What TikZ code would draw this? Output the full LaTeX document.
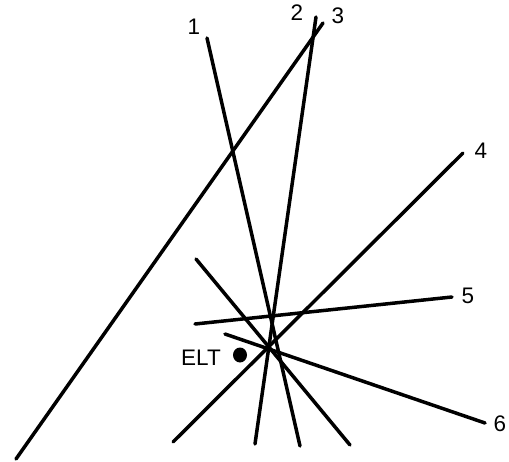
\documentclass[tikz,border=0pt]{standalone}
\usepackage{fontspec}
\setmainfont{Liberation Sans}
\begin{document}
\begin{tikzpicture}[x=1pt,y=-1pt,
  ray/.style={line width=3.5pt, line cap=round},
  lbl/.style={inner sep=0pt, font=\fontsize{22.5}{22.5}\selectfont}]
\useasboundingbox (0,0) rectangle (509,461);
% endpoints
\coordinate (a1) at (207,38);  \coordinate (b1) at (300,446);
\coordinate (a2) at (316,17);  \coordinate (b2) at (255,444);
\coordinate (a3) at (323,23);  \coordinate (b3) at (16,459);
\coordinate (a4) at (463,153); \coordinate (b4) at (173,442);
\coordinate (a5) at (452,297); \coordinate (b5) at (195,324);
\coordinate (a6) at (485,423); \coordinate (b6) at (225,334);
\coordinate (a7) at (196,259); \coordinate (b7) at (350,445);
\draw[ray] (a1) -- (b1);
\draw[ray] (a2) -- (b2);
\draw[ray] (a3) -- (b3);
\draw[ray] (a4) -- (b4);
\draw[ray] (a5) -- (b5);
\draw[ray] (a6) -- (b6);
\draw[ray] (a7) -- (b7);
% labels
\node[lbl] (n1) at (194,27) {1};
\node[lbl] (n2) at (297,13) {2};
\node[lbl] (n3) at (338,16) {3};
\node[lbl] (n4) at (481,151) {4};
\node[lbl] (n5) at (468,296) {5};
\node[lbl] (n6) at (500,424) {6};
\node[lbl] (elt) at (201,358) {ELT};
\fill (240,355) ellipse (7pt and 7.5pt);
\end{tikzpicture}
\end{document}
